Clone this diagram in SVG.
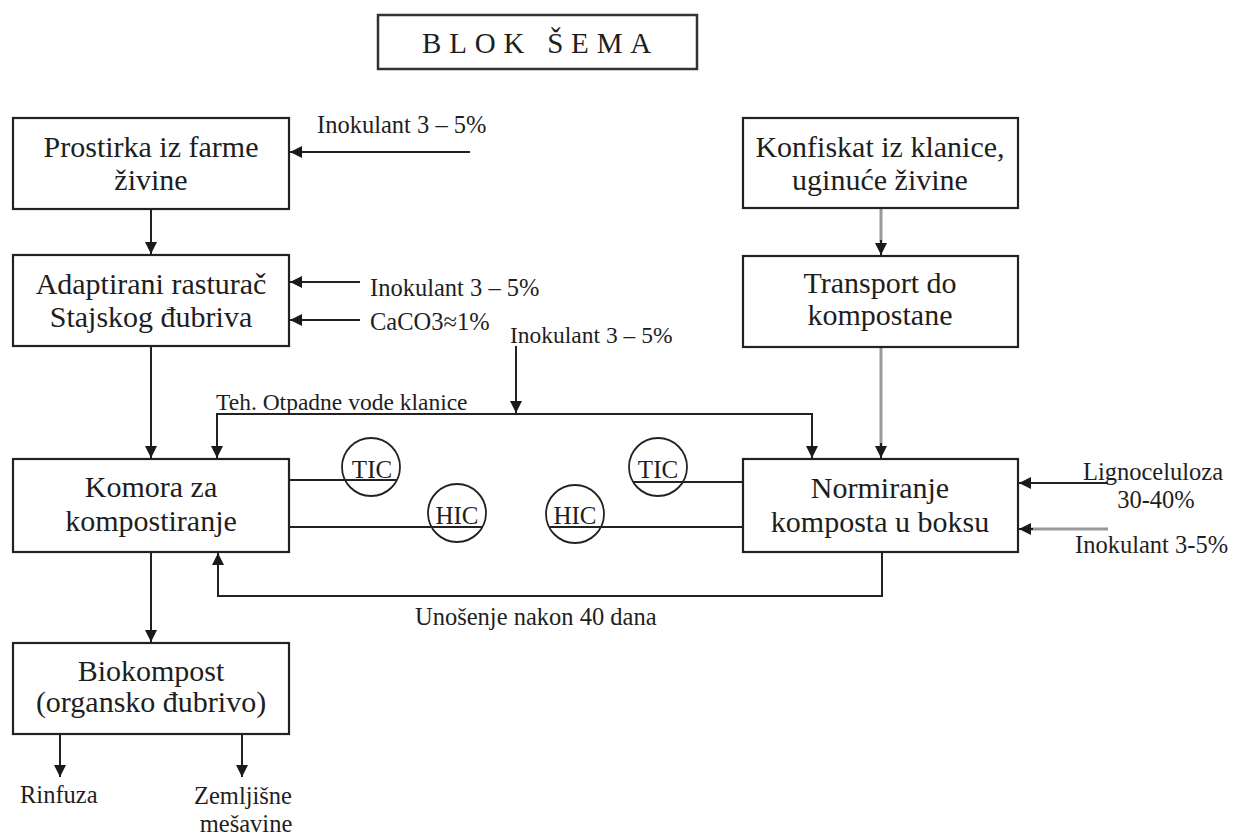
<svg xmlns="http://www.w3.org/2000/svg" width="1236" height="836" viewBox="0 0 1236 836">
<style>
text{font-family:"Liberation Serif","Times New Roman",serif;fill:#1e1e1e}
.box{fill:#fff;stroke:#222;stroke-width:2.2}
.bt{font-size:30px;text-anchor:middle}
.lbl{font-size:24.5px}
.ci{font-size:25px;text-anchor:middle}
.ln{fill:none;stroke:#222;stroke-width:2}
.gl{fill:none;stroke:#9a9a9a;stroke-width:3}
.cir{fill:none;stroke:#222;stroke-width:1.8}
</style>
<defs>
<marker id="ah" viewBox="0 0 10 10" refX="10" refY="5" markerWidth="12" markerHeight="12" markerUnits="userSpaceOnUse" orient="auto">
<path d="M0,0 L10,5 L0,10 z" fill="#1a1a1a"/>
</marker>
</defs>
<g id="title">
<rect x="378" y="15" width="319" height="54" fill="#fff" stroke="#333" stroke-width="2.5"/>
<text x="422" y="53" style="font-size:29px;letter-spacing:7.8px">BLOK  ŠEMA</text>
</g>
<g id="connectors">
<line class="ln" x1="470" y1="152" x2="290" y2="152" marker-end="url(#ah)"/>
<line class="ln" x1="151" y1="209" x2="151" y2="254" marker-end="url(#ah)"/>
<line class="ln" x1="360" y1="282" x2="290" y2="282" marker-end="url(#ah)"/>
<line class="ln" x1="360" y1="320" x2="290" y2="320" marker-end="url(#ah)"/>
<line class="ln" x1="151" y1="346" x2="151" y2="458" marker-end="url(#ah)"/>
<line class="ln" x1="516" y1="346" x2="516" y2="413" marker-end="url(#ah)"/>
<path class="ln" d="M516,414 H217 V458" marker-end="url(#ah)"/>
<path class="ln" d="M516,414 H812 V458" marker-end="url(#ah)"/>
<line class="gl" x1="881" y1="209" x2="881" y2="243"/>
<line class="ln" x1="881" y1="240" x2="881" y2="255" marker-end="url(#ah)"/>
<line class="gl" x1="881" y1="347" x2="881" y2="446"/>
<line class="ln" x1="881" y1="443" x2="881" y2="458" marker-end="url(#ah)"/>
<line class="ln" x1="1108" y1="483" x2="1019" y2="483" marker-end="url(#ah)"/>
<line class="gl" x1="1108" y1="529" x2="1030" y2="529"/>
<line class="ln" x1="1033" y1="529" x2="1019" y2="529" marker-end="url(#ah)"/>
<line class="ln" x1="289" y1="480" x2="397" y2="480"/>
<line class="ln" x1="289" y1="527" x2="483" y2="527"/>
<line class="ln" x1="549" y1="527" x2="743" y2="527"/>
<line class="ln" x1="633" y1="482" x2="743" y2="482"/>
<path class="ln" d="M882,552 V596 H218 V553" marker-end="url(#ah)"/>
<line class="ln" x1="151" y1="552" x2="151" y2="642" marker-end="url(#ah)"/>
<line class="ln" x1="60" y1="734" x2="60" y2="777" marker-end="url(#ah)"/>
<line class="ln" x1="242" y1="734" x2="242" y2="777" marker-end="url(#ah)"/>
</g>
<g id="n-prostirka">
<rect class="box" x="13" y="118" width="276" height="91"/>
<text class="bt" x="151" y="157">Prostirka iz farme</text>
<text class="bt" x="151" y="190">živine</text>
</g>
<g id="n-adaptirani">
<rect class="box" x="13" y="255" width="276" height="91"/>
<text class="bt" x="151" y="294">Adaptirani rasturač</text>
<text class="bt" x="151" y="327">Stajskog đubriva</text>
</g>
<g id="n-komora">
<rect class="box" x="13" y="459" width="276" height="93"/>
<text class="bt" x="151" y="497">Komora za</text>
<text class="bt" x="151" y="531">kompostiranje</text>
</g>
<g id="n-biokompost">
<rect class="box" x="13" y="643" width="276" height="91"/>
<text class="bt" x="151" y="681">Biokompost</text>
<text class="bt" x="151" y="712">(organsko đubrivo)</text>
</g>
<g id="n-konfiskat">
<rect class="box" x="743" y="118" width="275" height="90"/>
<text class="bt" x="880" y="157">Konfiskat iz klanice,</text>
<text class="bt" x="880" y="190">uginuće živine</text>
</g>
<g id="n-transport">
<rect class="box" x="743" y="256" width="275" height="91"/>
<text class="bt" x="880" y="293">Transport do</text>
<text class="bt" x="880" y="325">kompostane</text>
</g>
<g id="n-normiranje">
<rect class="box" x="743" y="459" width="275" height="93"/>
<text class="bt" x="880" y="498">Normiranje</text>
<text class="bt" x="880" y="532">komposta u boksu</text>
</g>
<g id="n-tic1">
<circle class="cir" cx="371" cy="467" r="29"/>
<text class="ci" x="372" y="478">TIC</text>
</g>
<g id="n-hic1">
<circle class="cir" cx="457" cy="513" r="29"/>
<text class="ci" x="457" y="524">HIC</text>
</g>
<g id="n-hic2">
<circle class="cir" cx="575" cy="514" r="29"/>
<text class="ci" x="575" y="524">HIC</text>
</g>
<g id="n-tic2">
<circle class="cir" cx="658" cy="467" r="29"/>
<text class="ci" x="658" y="478">TIC</text>
</g>
<g id="labels">
<text class="lbl" x="317" y="133">Inokulant 3 – 5%</text>
<text class="lbl" x="370" y="296">Inokulant 3 – 5%</text>
<text class="lbl" x="370" y="330">CaCO3≈1%</text>
<text class="lbl" x="510" y="343" style="font-size:23.5px">Inokulant 3 – 5%</text>
<text class="lbl" x="216" y="410" style="font-size:23.5px">Teh. Otpadne vode klanice</text>
<text class="lbl" x="1153" y="480" text-anchor="middle">Lignoceluloza</text>
<text class="lbl" x="1156" y="508" text-anchor="middle">30-40%</text>
<text class="lbl" x="1075" y="553">Inokulant 3-5%</text>
<text class="lbl" x="415" y="625">Unošenje nakon 40 dana</text>
<text class="lbl" x="20" y="803">Rinfuza</text>
<text class="lbl" x="243" y="804" text-anchor="middle">Zemljišne</text>
<text class="lbl" x="246" y="832" text-anchor="middle">mešavine</text>
</g>
</svg>
